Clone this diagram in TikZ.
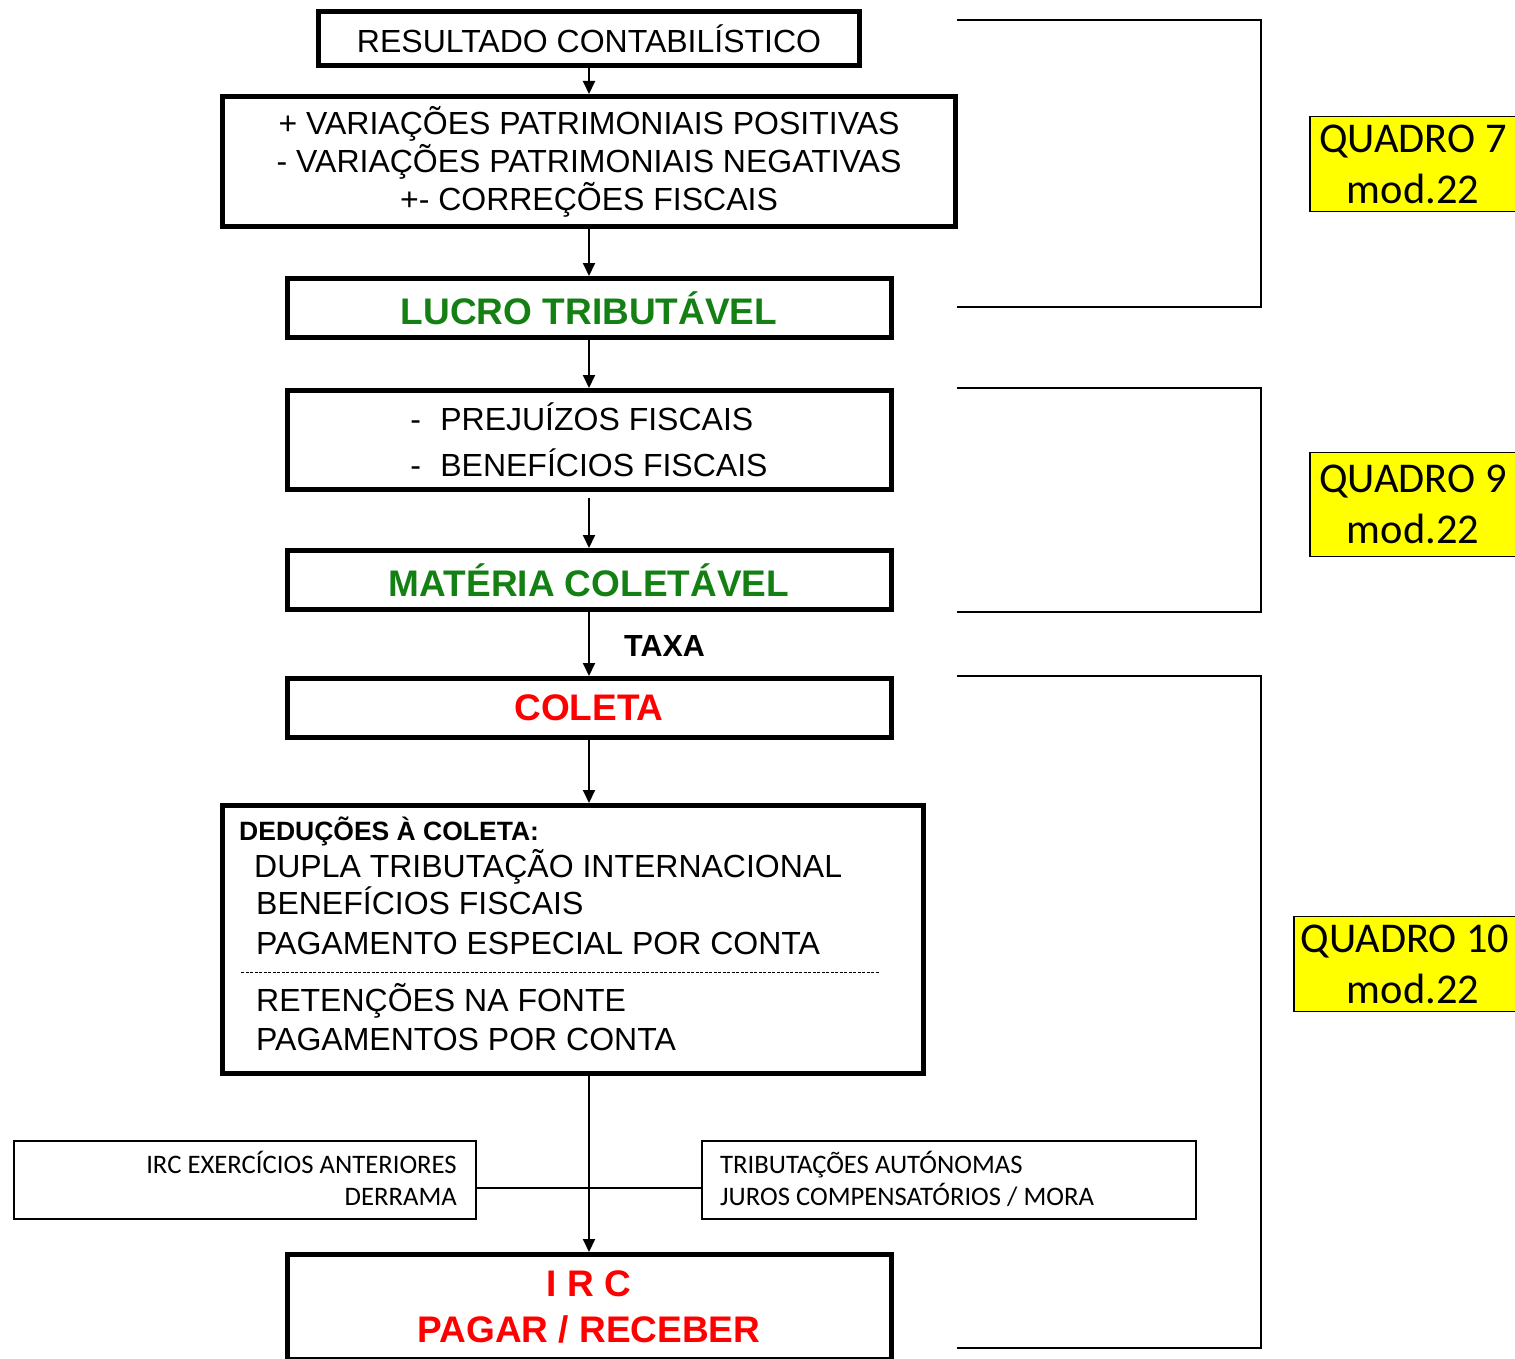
\documentclass[tikz,border=0pt]{standalone}
\usepackage{fontspec}
\setmainfont{Liberation Sans}
\newfontfamily\calfont{Carlito}
\usetikzlibrary{arrows.meta}
\definecolor{taxgreen}{RGB}{20,128,20}
\definecolor{quadyellow}{RGB}{255,255,0}
\begin{document}
\begin{tikzpicture}[x=1pt,y=-1pt,
  bigbox/.style={draw,line width=5pt,outer sep=2.5pt,inner sep=0pt,align=center},
  thinbox/.style={draw,line width=1.8pt,outer sep=0.9pt,inner sep=0pt},
  quadbox/.style={draw,line width=1.8pt,fill=quadyellow,inner sep=0pt,align=center,font=\calfont\fontsize{42.4}{51}\selectfont},
  flow/.style={line width=2pt,-{Triangle[length=13pt,width=12pt]}},
  bracket/.style={line width=2pt},
  normtext/.style={font=\fontsize{32}{38}\selectfont},
  boldtext/.style={font=\bfseries\fontsize{37}{46}\selectfont},
  linetext/.style={anchor=base west,inner sep=0pt,font=\fontsize{32}{36}\selectfont},
  smalltext/.style={inner sep=0pt,font=\calfont\fontsize{26.7}{30}\selectfont}
]
\useasboundingbox (0,0) rectangle (1515,1359);
\clip (0,0) rectangle (1515,1359);

% main column
\node[bigbox,normtext,minimum width=541pt,minimum height=54pt] (res) at (589,39) {RESULTADO CONTABILÍSTICO};
\node[bigbox,normtext,minimum width=733pt,minimum height=130pt] (var) at (589,161.5)
  {+ VARIAÇÕES PATRIMONIAIS POSITIVAS\\- VARIAÇÕES PATRIMONIAIS NEGATIVAS\\+- CORREÇÕES FISCAIS};
\node[bigbox,boldtext,text=taxgreen,minimum width=604pt,minimum height=59pt] (lucro) at (589,308) {LUCRO TRIBUTÁVEL};
\node[bigbox,font=\fontsize{32}{46}\selectfont,align=left,minimum width=604pt,minimum height=99pt] (prej) at (589,440)
  {-\hspace{0.6em}PREJUÍZOS FISCAIS\\-\hspace{0.6em}BENEFÍCIOS FISCAIS};
\node[bigbox,boldtext,text=taxgreen,minimum width=604pt,minimum height=59pt] (mat) at (589,580) {MATÉRIA COLETÁVEL};
\node[bigbox,boldtext,text=red,minimum width=604pt,minimum height=59pt] (col) at (589,708) {COLETA};
\node[bigbox,minimum width=701pt,minimum height=268pt] (ded) at (573,939.5) {};
\node[bigbox,boldtext,text=red,minimum width=604pt,minimum height=105pt,text depth=0pt] (irc) at (589,1307) {I R C\\PAGAR / RECEBER};

% contents of deductions box
\node[anchor=base west,inner sep=0pt,font=\bfseries\fontsize{26.5}{30}\selectfont] (d0) at (239,840) {DEDUÇÕES À COLETA:};
\node[linetext] (d1) at (254,877) {DUPLA TRIBUTAÇÃO INTERNACIONAL};
\node[linetext] (d2) at (256,914) {BENEFÍCIOS FISCAIS};
\node[linetext] (d3) at (256,954) {PAGAMENTO ESPECIAL POR CONTA};
\node[linetext] (d4) at (256,1011) {RETENÇÕES NA FONTE};
\node[linetext] (d5) at (256,1050) {PAGAMENTOS POR CONTA};
\coordinate (dashL) at (241,972);
\coordinate (dashR) at (880,972);
\draw[line width=0.9pt,dash pattern=on 3pt off 1.5pt] (dashL) -- (dashR);

% TAXA label
\node[anchor=base west,inner sep=0pt,font=\bfseries\fontsize{30.5}{34}\selectfont] (taxa) at (624,656) {TAXA};

% side boxes
\node[thinbox,minimum width=462pt,minimum height=78pt] (lb) at (245,1180) {};
\node[thinbox,minimum width=494pt,minimum height=78pt] (rb) at (949,1180) {};
\node[smalltext,anchor=base east] (l1) at (457,1173) {IRC EXERCÍCIOS ANTERIORES};
\node[smalltext,anchor=base east] (l2) at (457,1205) {DERRAMA};
\node[smalltext,anchor=base west] (r1) at (720,1173) {TRIBUTAÇÕES AUTÓNOMAS};
\node[smalltext,anchor=base west] (r2) at (720,1205) {JUROS COMPENSATÓRIOS / MORA};
\coordinate (hy) at (0,1188);
\draw[line width=2pt] (lb.east |- hy) -- (rb.west |- hy);

% arrows
\draw[flow] (res.south) -- (var.north);
\draw[flow] (var.south) -- (lucro.north);
\draw[flow] (lucro.south) -- (prej.north);
\draw[flow,shorten <=6pt] (prej.south) -- (mat.north);
\draw[flow] (mat.south) -- (col.north);
\draw[flow] (col.south) -- (col.south |- ded.north);
\draw[flow] (ded.south -| irc.north) -- (irc.north);

% brackets
\coordinate (b1a) at (957,20);   \coordinate (b1b) at (1261,307);
\coordinate (b2a) at (957,388);  \coordinate (b2b) at (1261,612);
\coordinate (b3a) at (957,676);  \coordinate (b3b) at (1261,1348);
\draw[bracket] (b1a) -| (b1b) -- (b1a |- b1b);
\draw[bracket] (b2a) -| (b2b) -- (b2a |- b2b);
\draw[bracket] (b3a) -| (b3b) -- (b3a |- b3b);

% quadro labels
\node[quadbox,minimum width=206pt,minimum height=95pt] (q7) at (1413,164) {QUADRO 7\\mod.22};
\node[quadbox,minimum width=206pt,minimum height=104pt] (q9) at (1413,504.5) {QUADRO 9\\mod.22};
\node[quadbox,minimum width=222pt,minimum height=95pt] (q10) at (1405,964) {QUADRO 10\\\hspace*{16pt}mod.22};
\end{tikzpicture}
\end{document}
